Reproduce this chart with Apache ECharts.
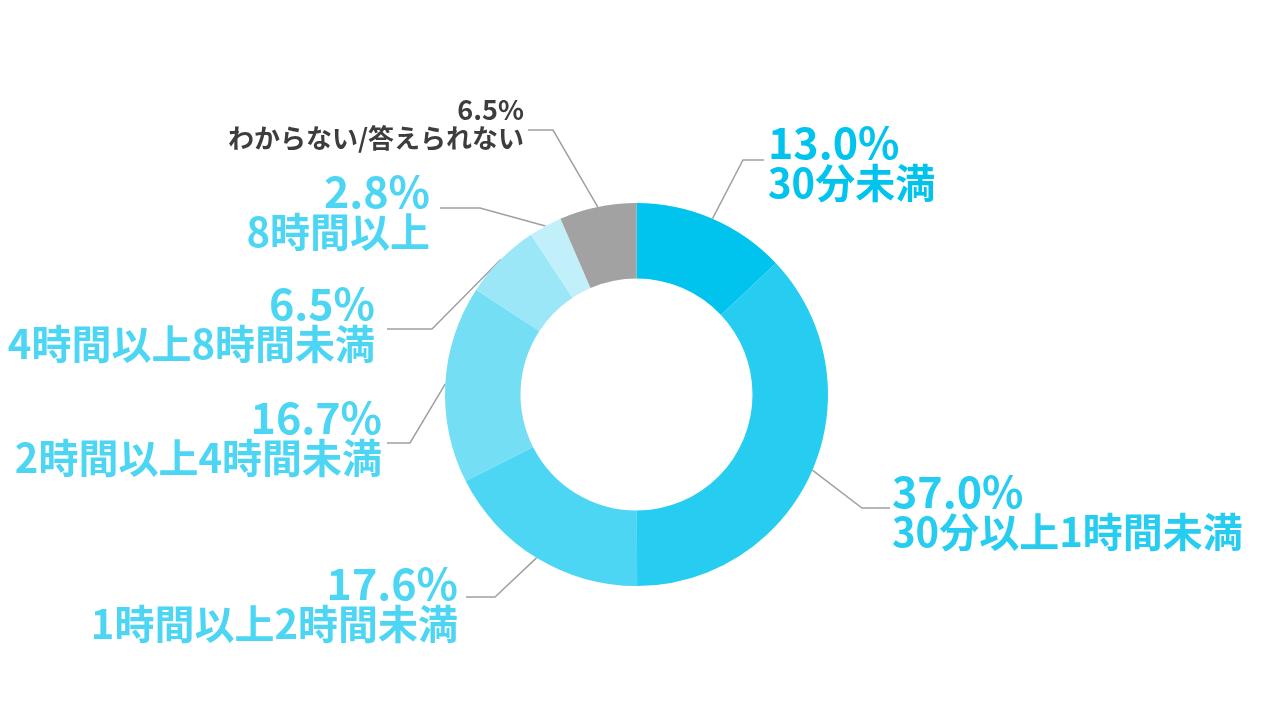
<!DOCTYPE html>
<html>
<head>
<meta charset="utf-8">
<script src="https://cdn.jsdelivr.net/npm/echarts@6/dist/echarts.min.js"></script>
<style>
  html, body { margin: 0; padding: 0; background: #fff; }
  #chart { width: 1280px; height: 720px; }
</style>
</head>
<body>
<div id="chart"></div>
<script>
// data
var categories = ['30分未満', '30分以上1時間未満', '1時間以上2時間未満', '2時間以上4時間未満',
                  '4時間以上8時間未満', '8時間以上', 'わからない/答えられない'];
var shares = [13.0, 37.0, 17.6, 16.7, 6.5, 2.8, 6.5];

// styles
var sliceColors = ['#00c3ee', '#27cdf0', '#4dd6f3', '#74def5', '#9be7f8', '#c1f0fb', '#a2a2a2'];
var labelColors = ['#00c3ee', '#27cdf0', '#4dd6f3', '#4dd6f3', '#4dd6f3', '#4dd6f3', '#3d3d3d'];

// label placement: leader elbow, leader end x, text anchor x / middle y, text side
var labelPlaces = [
    { elbow: [743, 160], end: 764, tx: 768, ty: 163, side: 'left' },
    { elbow: [862, 508], end: 890, tx: 892, ty: 512, side: 'left' },
    { elbow: [495, 597], end: 466, tx: 458, ty: 604, side: 'right' },
    { elbow: [410, 443], end: 387, tx: 382, ty: 438, side: 'right' },
    { elbow: [432, 329], end: 387, tx: 375, ty: 324, side: 'right' },
    { elbow: [480, 208], end: 440, tx: 430, ty: 212, side: 'right' },
    { elbow: [553, 130], end: 528, tx: 524, ty: 124, side: 'right' }
];

var FONT = '"Noto Sans CJK JP", sans-serif';

var chart = echarts.init(document.getElementById('chart'));

var pieData = [];
for (var i = 0; i < categories.length; i++) {
    var small = i === categories.length - 1;
    pieData.push({
        name: categories[i],
        value: shares[i],
        itemStyle: { color: sliceColors[i] },
        label: {
            color: labelColors[i],
            rich: {
                p: {
                    color: labelColors[i], fontFamily: FONT, fontWeight: 'bold',
                    fontSize: small ? 27 : 43, lineHeight: small ? 28 : 40
                },
                n: {
                    color: labelColors[i], fontFamily: FONT, fontWeight: 'bold',
                    fontSize: small ? 26 : 40, lineHeight: small ? 29 : 40
                }
            }
        }
    });
}

chart.setOption({
    animation: false,
    series: [{
        type: 'pie',
        center: [636.5, 394.5],
        radius: [116, 191.5],
        startAngle: 90,
        clockwise: true,
        avoidLabelOverlap: false,
        data: pieData,
        label: {
            show: true,
            position: 'outside',
            fontFamily: FONT,
            fontWeight: 'bold',
            formatter: function (p) {
                return '{p|' + p.value.toFixed(1) + '%}\n{n|' + p.name + '}';
            }
        },
        labelLine: {
            show: true,
            length: 40,
            length2: 20,
            lineStyle: { color: '#a0a0a0', width: 1.5 }
        },
        emphasis: { disabled: true },
        labelLayout: function (params) {
            var pl = labelPlaces[params.dataIndex];
            var start = params.labelLinePoints ? params.labelLinePoints[0] : pl.elbow;
            return {
                x: pl.tx,
                y: pl.ty,
                align: pl.side,
                verticalAlign: 'middle',
                labelLinePoints: [start, pl.elbow, [pl.end, pl.elbow[1]]]
            };
        }
    }]
});
</script>
</body>
</html>
